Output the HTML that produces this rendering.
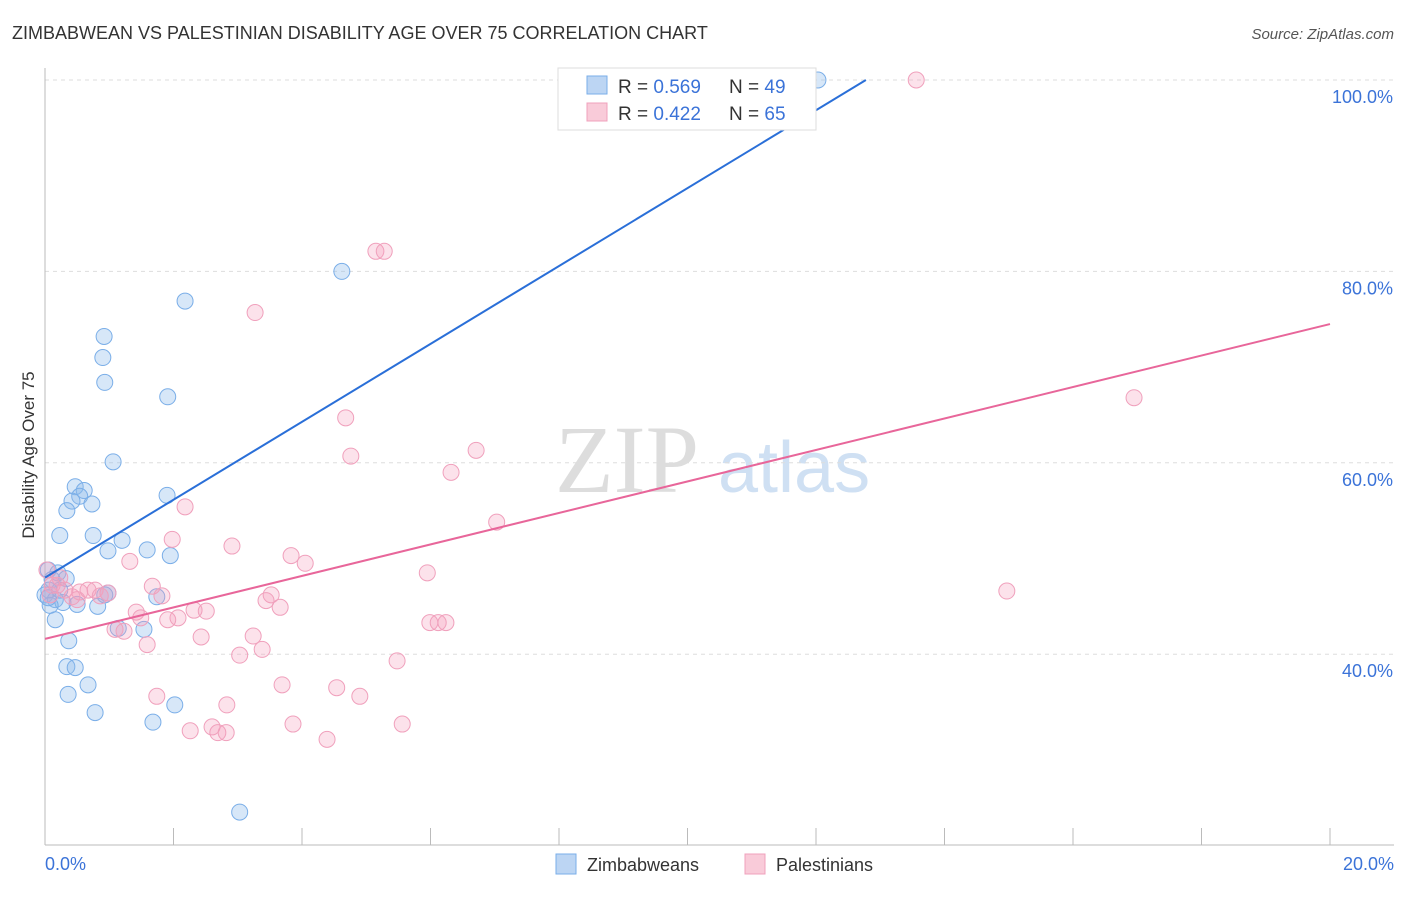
<!DOCTYPE html>
<html><head><meta charset="utf-8"><style>
body{margin:0;background:#fff;font-family:"Liberation Sans",sans-serif;}
</style></head><body>
<svg id="chart" width="1406" height="892" xmlns="http://www.w3.org/2000/svg">
<text x="12" y="39" font-size="18" fill="#333">ZIMBABWEAN VS PALESTINIAN DISABILITY AGE OVER 75 CORRELATION CHART</text>
<text x="1394" y="39" font-size="15" fill="#555" text-anchor="end" font-style="italic">Source: ZipAtlas.com</text>
<text x="34" y="455" font-size="17" fill="#333" text-anchor="middle" transform="rotate(-90 34 455)">Disability Age Over 75</text>
<g><text x="555" y="492" font-size="96" fill="#ddd" font-family="Liberation Serif,serif">ZIP</text><text x="718" y="492" font-size="72" fill="#cfe0f3">atlas</text></g>
<g id="grid"></g><g id="axes"></g><g id="marks"></g>
<g>
<rect x="558" y="68" width="258" height="62" fill="#fff" stroke="#ddd"/>
<rect x="587" y="76" width="20" height="18" fill="#bcd5f3" stroke="#7aaee8"/>
<text x="618" y="93" font-size="19" fill="#333">R = <tspan fill="#3b73d8">0.569</tspan></text>
<text x="729" y="93" font-size="19" fill="#333">N = <tspan fill="#3b73d8">49</tspan></text>
<rect x="587" y="103" width="20" height="18" fill="#f9cbd9" stroke="#f0a0bc"/>
<text x="618" y="120" font-size="19" fill="#333">R = <tspan fill="#3b73d8">0.422</tspan></text>
<text x="729" y="120" font-size="19" fill="#333">N = <tspan fill="#3b73d8">65</tspan></text>
</g>
<g>
<rect x="556" y="854" width="20" height="20" fill="#bcd5f3" stroke="#7aaee8"/><text x="587" y="871" font-size="18" fill="#333">Zimbabweans</text>
<rect x="745" y="854" width="20" height="20" fill="#f9cbd9" stroke="#f0a0bc"/><text x="776" y="871" font-size="18" fill="#333">Palestinians</text>
</g>
</svg>
<script>
const yTicks=[40,60,80,100];
const yTickLabels=["40.0%","60.0%","80.0%","100.0%"];
const blueX=[12.03,4.62,2.18,0.92,0.90,0.93,1.91,1.06,0.47,0.61,0.54,0.42,0.73,0.34,1.90,0.23,0.75,1.20,0.98,1.59,1.95,0.05,0.20,0.33,0.11,0.06,0,0.16,0.28,0.50,0.82,0.98,1.74,0.16,1.14,1.54,0.37,0.34,0.47,0.67,0.36,0.78,1.68,2.02,3.03,0.08,0.05,0.23,0.93];
const blueY=[100,80.0,76.9,73.2,71.0,68.4,66.9,60.1,57.5,57.1,56.5,56.0,55.7,55.0,56.6,52.4,52.4,51.9,50.8,50.9,50.3,48.8,48.5,47.9,47.8,46.7,46.2,45.7,45.4,45.2,45.0,46.4,46.0,43.6,42.7,42.6,41.4,38.7,38.6,36.8,35.8,33.9,32.9,34.7,23.5,45.1,45.9,46.7,46.2];
const pinkX=[13.56,5.15,5.28,3.27,16.95,4.68,4.76,6.71,6.32,7.03,2.18,1.98,2.91,3.83,4.05,1.32,5.95,14.97,0.03,0.23,0.11,0.54,0.78,0.98,0.67,1.67,1.82,3.52,3.44,3.66,2.32,2.51,1.42,1.49,1.91,2.07,0.50,0.42,1.09,1.23,5.99,6.12,6.24,3.24,2.43,1.59,3.38,3.03,5.48,3.69,4.54,4.90,1.74,2.83,5.56,3.86,2.60,2.69,2.82,2.26,4.39,0.19,0.31,0.08,0.86];
const pinkY=[100,82.1,82.1,75.7,66.8,64.7,60.7,61.3,59.0,53.8,55.4,52.0,51.3,50.3,49.5,49.7,48.5,46.6,48.8,48.0,47.2,46.5,46.7,46.4,46.7,47.1,46.1,46.2,45.6,44.9,44.6,44.5,44.4,43.8,43.6,43.8,45.7,46.0,42.6,42.4,43.3,43.3,43.3,41.9,41.8,41.0,40.5,39.9,39.3,36.8,36.5,35.6,35.6,34.7,32.7,32.7,32.4,31.8,31.8,32.0,31.1,47.2,46.7,46.2,46.1];
const blueTrend=[48.0,4.07];
const pinkTrend=[41.6,1.645];
const NS="http://www.w3.org/2000/svg";
const sx=v=>45+v*64.25, sy=v=>1037-v*9.57;
function mk(t,a,p){const e=document.createElementNS(NS,t);for(const k in a)e.setAttribute(k,a[k]);p.appendChild(e);return e;}
const grid=document.getElementById('grid'),axes=document.getElementById('axes'),marks=document.getElementById('marks');
yTicks.forEach((t,i)=>{
 const l=mk('line',{x1:45,x2:1394,y1:sy(t),y2:sy(t),stroke:'#ddd','stroke-dasharray':'4,4'},grid);
 
 
 const tx=mk('text',{x:1393,y:sy(t)+23,'font-size':18,fill:'#3b73d8','text-anchor':'end'},axes);tx.textContent=yTickLabels[i];
 
 
});
mk('line',{x1:45,x2:1394,y1:845,y2:845,stroke:'#bbb'},axes);
mk('line',{x1:45,x2:45,y1:68,y2:845,stroke:'#bbb'},axes);
for(let i=0;i<=10;i++){const t=mk('line',{x1:sx(i*2),x2:sx(i*2),y1:828,y2:845,stroke:'#bbb'},axes);
 
 }
let a=mk('text',{x:45,y:870,'font-size':18,fill:'#3b73d8'},axes);a.textContent='0.0%';


a=mk('text',{x:1394,y:870,'font-size':18,fill:'#3b73d8','text-anchor':'end'},axes);a.textContent='20.0%';


blueX.forEach((x,i)=>{const c=mk('circle',{cx:sx(x),cy:sy(blueY[i]),r:8,fill:'rgba(140,185,235,0.35)',stroke:'#7aaee8','stroke-width':1},marks);
 
 });
pinkX.forEach((x,i)=>{const c=mk('circle',{cx:sx(x),cy:sy(pinkY[i]),r:8,fill:'rgba(245,160,190,0.3)',stroke:'#f0a0bc','stroke-width':1},marks);
 
 });
const bx2=(100-blueTrend[0])/blueTrend[1];
let tl=mk('line',{x1:sx(0),y1:sy(blueTrend[0]),x2:sx(bx2),y2:sy(100),stroke:'#2a6fd8','stroke-width':2},marks);


tl=mk('line',{x1:sx(0),y1:sy(pinkTrend[0]),x2:sx(20),y2:sy(pinkTrend[0]+20*pinkTrend[1]),stroke:'#e8669a','stroke-width':2},marks);


</script>
</body></html>
